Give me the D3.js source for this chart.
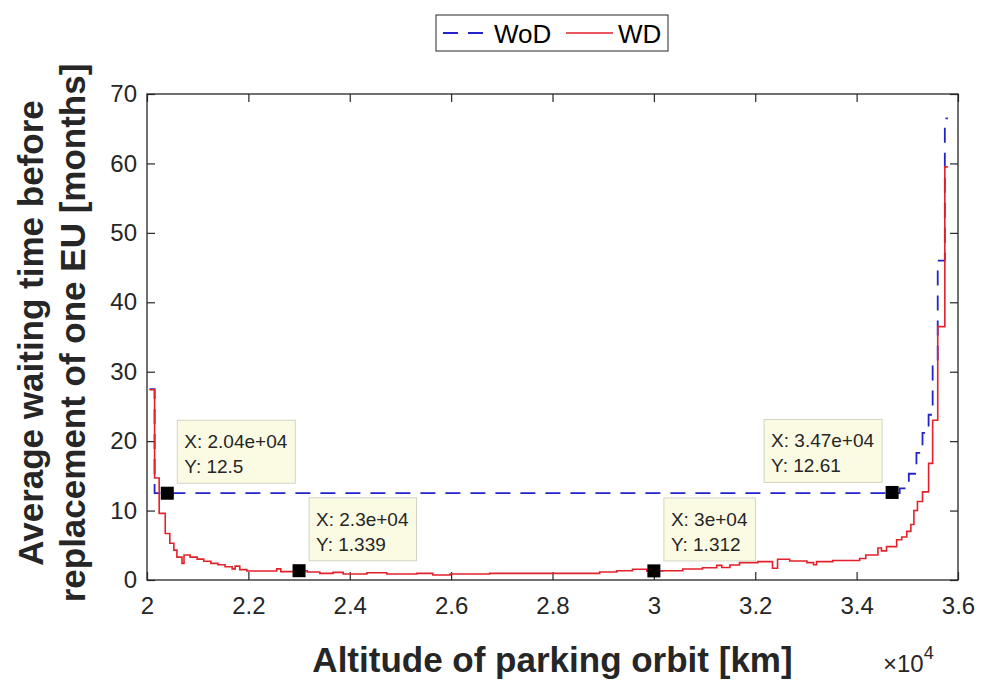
<!DOCTYPE html>
<html>
<head>
<meta charset="utf-8">
<script src="https://cdn.jsdelivr.net/npm/d3@7"></script>
<style>
  body { margin: 0; background: #fff; }
  text { font-family: "Liberation Sans", Arial, Helvetica, sans-serif; }
</style>
</head>
<body>
<div id="chart"></div>
<script>
// WoD: start of each stair step (km) and its value (months)
const wodAlt = [20050, 20150, 34850, 35030, 35180, 35300, 35420, 35500, 35600, 35740];
const wodVal = [27.5, 12.5, 13.2, 15.3, 18.3, 21.2, 23.8, 31, 46, 66.5];
const wodEnd = 35800;

// WD: start of each stair step (km) and its value (months)
const wdAlt = [20050, 20150, 20240, 20360, 20450, 20530, 20590, 20690, 20730, 20850,
  20990, 21120, 21260, 21400, 21540, 21680, 21740, 21830, 21970, 22560,
  22640, 22960, 23160, 23410, 23670, 23870, 24340, 24730, 25320, 25640,
  25980, 26760, 28930, 29270, 29580, 29860, 30180, 30570, 30960, 31240,
  31340, 31500, 31690, 32050, 32340, 32440, 32680, 33020, 33150, 33210,
  33530, 34060, 34180, 34420, 34490, 34590, 34790, 34890, 34990, 35070,
  35130, 35200, 35300, 35420, 35500, 35600, 35740];
const wdVal = [27.4, 14.7, 9.6, 6.7, 5.3, 4.3, 3.3, 2.4, 3.6, 3.3,
  3.0, 2.7, 2.4, 2.2, 1.9, 1.6, 2.0, 1.5, 1.3, 1.6,
  1.2, 1.34, 1.15, 0.96, 1.1, 0.86, 1.05, 0.86, 0.96, 0.72,
  0.86, 0.96, 1.15, 1.34, 1.54, 1.31, 1.34, 1.58, 1.77, 2.1,
  1.8, 2.16, 2.5, 2.64, 1.7, 2.98, 2.74, 2.5, 2.2, 2.64,
  2.8, 3.1, 3.6, 4.6, 4.2, 4.8, 5.8, 6.2, 7.0, 8.0,
  10.0, 11.3, 12.7, 16.8, 23, 36.5, 59.5];
const wdEnd = 35800;

const xTicks = [20000, 22000, 24000, 26000, 28000, 30000, 32000, 34000, 36000];
const xTickLabels = ["2", "2.2", "2.4", "2.6", "2.8", "3", "3.2", "3.4", "3.6"];
const yTicks = [0, 10, 20, 30, 40, 50, 60, 70];

// data tips
const tipX = [20400, 23000, 30000, 34700];
const tipY = [12.5, 1.339, 1.312, 12.61];
const tipXText = ["2.04e+04", "2.3e+04", "3e+04", "3.47e+04"];
const tipYText = ["12.5", "1.339", "1.312", "12.61"];
const tipSide = ["right", "right", "right", "left"];

const seriesNames = ["WoD", "WD"];

const width = 985, height = 683;
const margin = {top: 94, right: 27, bottom: 103, left: 147};
const innerW = width - margin.left - margin.right;
const innerH = height - margin.top - margin.bottom;

const svg = d3.select("#chart").append("svg")
  .attr("width", width).attr("height", height);

const g = svg.append("g").attr("transform", `translate(${margin.left},${margin.top})`);

const x = d3.scaleLinear().domain([20000, 36000]).range([0, innerW]);
const y = d3.scaleLinear().domain([0, 70]).range([innerH, 0]);

const axisColor = "#262626";

// axes (ticks inside, box style)
const xAxis = g.append("g").attr("transform", `translate(0,${innerH})`)
  .call(d3.axisBottom(x).tickValues(xTicks).tickSizeInner(-8).tickSizeOuter(0)
    .tickPadding(17).tickFormat((d, i) => xTickLabels[i]));
const yAxis = g.append("g")
  .call(d3.axisLeft(y).tickValues(yTicks).tickSizeInner(-8).tickSizeOuter(0)
    .tickPadding(10).tickFormat(d3.format("d")));
const xTop = g.append("g")
  .call(d3.axisTop(x).tickValues(xTicks).tickSizeInner(-8).tickSizeOuter(0).tickFormat(""));
const yRight = g.append("g").attr("transform", `translate(${innerW},0)`)
  .call(d3.axisRight(y).tickValues(yTicks).tickSizeInner(-8).tickSizeOuter(0).tickFormat(""));

[xAxis, yAxis, xTop, yRight].forEach(a => {
  a.select(".domain").remove();
  a.selectAll("line").attr("stroke", axisColor).attr("stroke-width", 1.2);
  a.selectAll("text").attr("fill", axisColor).style("font-size", "24px");
});

// series
function stairs(alts, vals, end) {
  const pts = alts.map((a, i) => [a, vals[i]]);
  pts.push([end, vals[vals.length - 1]]);
  return pts;
}
const line = d3.line().x(d => x(d[0])).y(d => y(d[1])).curve(d3.curveStepAfter);

g.append("path")
  .datum(stairs(wodAlt, wodVal, wodEnd))
  .attr("fill", "none").attr("stroke", "#2323cc").attr("stroke-width", 1.8)
  .attr("stroke-dasharray", "15,10")
  .attr("d", line);

g.append("path")
  .datum(stairs(wdAlt, wdVal, wdEnd))
  .attr("fill", "none").attr("stroke", "#e2212b").attr("stroke-width", 1.6)
  .attr("d", line);

// box
g.append("rect").attr("width", innerW).attr("height", innerH)
  .attr("fill", "none").attr("stroke", axisColor).attr("stroke-width", 1.3);

// data tips
tipX.forEach((tx, i) => {
  const px = x(tx), py = y(tipY[i]);
  const tg = g.append("g");
  const t1 = tg.append("text").text("X: " + tipXText[i]);
  const t2 = tg.append("text").text("Y: " + tipYText[i]);
  tg.selectAll("text").attr("fill", "#262626").style("font-size", "19px");
  const tw = Math.max(t1.node().getComputedTextLength(), t2.node().getComputedTextLength());
  const bw = tw + 15, bh = 63;
  const bx = tipSide[i] === "right" ? px + 10 : px - 10 - bw;
  const by = py - 10 - bh;
  tg.insert("rect", "text").attr("x", bx).attr("y", by).attr("width", bw).attr("height", bh)
    .attr("fill", "#fbfbe4").attr("stroke", "#d4d4c4").attr("stroke-width", 1);
  t1.attr("x", bx + 7).attr("y", by + 28);
  t2.attr("x", bx + 7).attr("y", by + 53);
  g.append("rect").attr("x", px - 6.5).attr("y", py - 6.5).attr("width", 13).attr("height", 13)
    .attr("fill", "#000");
});

// axis labels
svg.append("text")
  .attr("x", margin.left + innerW / 2).attr("y", 672)
  .attr("text-anchor", "middle").attr("fill", axisColor)
  .style("font-size", "35px").style("font-weight", "bold")
  .text("Altitude of parking orbit [km]");

const ylab = svg.append("text")
  .attr("transform", `translate(0,${margin.top + innerH / 2 - 4}) rotate(-90)`)
  .attr("text-anchor", "middle").attr("fill", axisColor)
  .style("font-size", "35px").style("font-weight", "bold");
ylab.append("tspan").attr("x", 0).attr("y", 43).text("Average waiting time before");
ylab.append("tspan").attr("x", 0).attr("y", 85).text("replacement of one EU [months]");

const expo = svg.append("text")
  .attr("x", 883).attr("y", 672).attr("fill", axisColor).style("font-size", "24px");
expo.append("tspan").text("\u00d710");
expo.append("tspan").attr("dy", -13).style("font-size", "18px").text("4");

// legend
const lg = svg.append("g");
lg.append("rect").attr("x", 436).attr("y", 15).attr("width", 232).attr("height", 36)
  .attr("fill", "#fff").attr("stroke", axisColor).attr("stroke-width", 1);
lg.append("line").attr("x1", 443).attr("x2", 483).attr("y1", 33).attr("y2", 33)
  .attr("stroke", "#2323cc").attr("stroke-width", 1.8).attr("stroke-dasharray", "15,10");
lg.append("text").attr("x", 494).attr("y", 43).style("font-size", "26px").attr("fill", "#000")
  .text(seriesNames[0]);
lg.append("line").attr("x1", 566).attr("x2", 613).attr("y1", 33).attr("y2", 33)
  .attr("stroke", "#e2212b").attr("stroke-width", 1.6);
lg.append("text").attr("x", 618).attr("y", 43).style("font-size", "26px").attr("fill", "#000")
  .text(seriesNames[1]);
</script>
</body>
</html>
